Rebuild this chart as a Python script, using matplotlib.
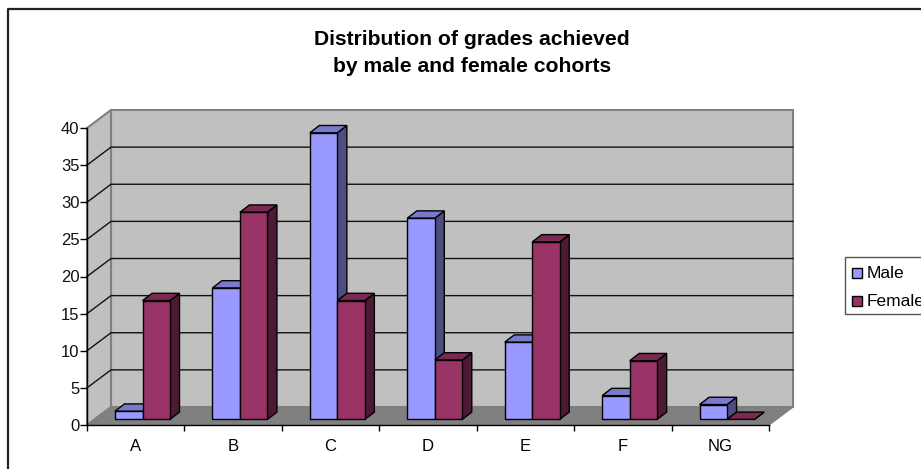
import matplotlib
matplotlib.use("Agg")
import matplotlib.pyplot as plt
from matplotlib.patches import Polygon, Rectangle

plt.rcParams["font.family"] = ["Liberation Sans", "DejaVu Sans"]

grades = ["A", "B", "C", "D", "E", "F", "NG"]
male = [1.1, 17.7, 38.6, 27.1, 10.4, 3.2, 2.0]
female = [16.0, 27.9, 16.0, 8.0, 23.9, 7.9, 0.0]
y_ticks = [0, 5, 10, 15, 20, 25, 30, 35, 40]

W, H = 921, 469
# front plane of the fake 3D box, in pixels
LEFT, RIGHT, BOTTOM, TOP = 87, 769, 425, 128

cat_px = (RIGHT - LEFT) / len(grades)
val_px = (BOTTOM - TOP) / y_ticks[-1]

# depth offsets converted to data units
wall_dx, wall_dy = 24 / cat_px, 18 / val_px
bar_dx, bar_dy = 9.5 / cat_px, 7.3 / val_px
base_x, base_y = 28 / cat_px, 5.6 / val_px
bar_w = 27.5 / cat_px

MALE_COLS = ("#9999FF", "#7A7ACC", "#4D4D80")
FEMALE_COLS = ("#993366", "#7A2952", "#4D1A33")


def add_poly(ax, pts, face, edge="black", lw=1.0, z=1):
    ax.add_patch(Polygon(pts, closed=True, facecolor=face, edgecolor=edge,
                         linewidth=lw, zorder=z, clip_on=False, joinstyle="miter"))


def draw_bar(ax, x, value, cols, z):
    x0, x1 = x, x + bar_w
    y0, y1 = base_y, base_y + value
    # side first, then top, then the front face
    add_poly(ax, [(x1, y0), (x1 + bar_dx, y0 + bar_dy), (x1 + bar_dx, y1 + bar_dy), (x1, y1)], cols[2], z=z)
    add_poly(ax, [(x0, y1), (x0 + bar_dx, y1 + bar_dy), (x1 + bar_dx, y1 + bar_dy), (x1, y1)], cols[1], z=z)
    if value > 0:
        add_poly(ax, [(x0, y0), (x1, y0), (x1, y1), (x0, y1)], cols[0], z=z + 0.1)


fig = plt.figure(figsize=(W / 100, H / 100), dpi=100)
fig.patch.set_facecolor("white")

# chart border, only top and left fall inside the image
fig.add_artist(plt.Line2D([7.5 / W, 7.5 / W, 1], [0, 1 - 9.5 / H, 1 - 9.5 / H], color="#222222", lw=1.6))

ax = fig.add_axes([LEFT / W, 1 - BOTTOM / H, (RIGHT - LEFT) / W, (BOTTOM - TOP) / H])
ax.set_xlim(0, len(grades))
ax.set_ylim(0, y_ticks[-1])
ax.patch.set_visible(False)

n = len(grades)
top = y_ticks[-1]
wall_edge = "#808080"

# back wall, side wall, floor
add_poly(ax, [(wall_dx, wall_dy), (n + wall_dx, wall_dy), (n + wall_dx, top + wall_dy), (wall_dx, top + wall_dy)],
         "#C0C0C0", edge=wall_edge, lw=1.5, z=0.1)
add_poly(ax, [(0, 0), (wall_dx, wall_dy), (wall_dx, top + wall_dy), (0, top)],
         "#C0C0C0", edge=wall_edge, lw=1.5, z=0.1)
add_poly(ax, [(0, 0), (n, 0), (n + wall_dx, wall_dy), (wall_dx, wall_dy)],
         "#808080", edge=wall_edge, lw=1.0, z=0.2)

# gridlines run up the side wall then across the back
for t in y_ticks[1:-1]:
    ax.plot([0, wall_dx, n + wall_dx], [t, t + wall_dy, t + wall_dy], color="#111111", lw=1.0,
            zorder=0.5, clip_on=False, solid_joinstyle="miter")

for i in range(n):
    draw_bar(ax, i + base_x, male[i], MALE_COLS, 2 + i)
    draw_bar(ax, i + base_x + bar_w, female[i], FEMALE_COLS, 2.5 + i)

for name in ("top", "right"):
    ax.spines[name].set_visible(False)
for name in ("left", "bottom"):
    ax.spines[name].set_linewidth(1.0)
    ax.spines[name].set_zorder(20)

ax.set_yticks(y_ticks)
ax.set_xticks(range(n + 1))
ax.set_xticklabels([])
ax.set_xticks([i + 0.5 for i in range(n)], minor=True)
ax.set_xticklabels(grades, minor=True)
ax.tick_params(axis="y", length=5, width=1, labelsize=12, pad=0.5, labelcolor="#111111")
ax.tick_params(axis="x", which="major", length=4, width=1)
ax.tick_params(axis="x", which="minor", length=0, labelsize=12, pad=10)

fig.text(472 / W, 1 - 39.5 / H, "Distribution of grades achieved", ha="center", va="center",
         fontsize=15.2, fontweight="bold")
fig.text(472 / W, 1 - 67 / H, "by male and female cohorts", ha="center", va="center",
         fontsize=15.2, fontweight="bold")

# legend, hand placed because it runs off the right edge of the image
fig.add_artist(Rectangle((845 / W, 1 - 313.5 / H), 90 / W, 57 / H, transform=fig.transFigure,
                         facecolor="white", edgecolor="#555555", lw=1.0))
for label, col, cy in [("Male", MALE_COLS[0], 273), ("Female", FEMALE_COLS[0], 301)]:
    fig.add_artist(Rectangle((851.5 / W, 1 - (cy + 5) / H), 10 / W, 10 / H, transform=fig.transFigure,
                             facecolor=col, edgecolor="black", lw=1.0))
    fig.text(867 / W, 1 - cy / H, label, ha="left", va="center", fontsize=12.5)

fig.savefig("out.png", dpi=100)
